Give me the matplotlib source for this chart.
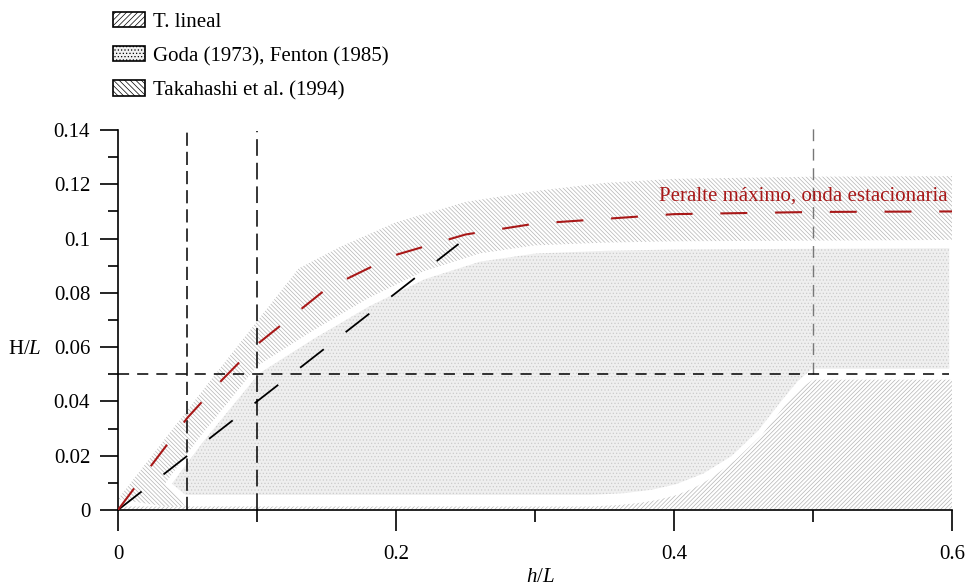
import matplotlib
matplotlib.use('Agg')
import matplotlib.pyplot as plt
from matplotlib.patches import Polygon, Patch
import numpy as np

plt.rcParams['font.family'] = ['Liberation Serif', 'DejaVu Serif']
plt.rcParams['mathtext.fontset'] = 'custom'
plt.rcParams['mathtext.rm'] = 'Liberation Serif'
plt.rcParams['mathtext.it'] = 'Liberation Serif:italic'
plt.rcParams['hatch.linewidth'] = 0.5
plt.rcParams['lines.scale_dashes'] = False

# zona Takahashi et al. (1994): borde superior y borde inferior
taka_up_x = [0.0, 0.07, 0.13, 0.16, 0.20, 0.25, 0.30, 0.35, 0.40, 0.50, 0.60]
taka_up_y = [0.004, 0.050, 0.089, 0.097, 0.106, 0.1135, 0.1175, 0.1205, 0.122, 0.1228, 0.123]
taka_lo_x = [0.60, 0.40, 0.35, 0.30, 0.26, 0.22, 0.18, 0.14, 0.10, 0.06, 0.036, 0.05]
taka_lo_y = [0.0995, 0.099, 0.0985, 0.0975, 0.0945, 0.088, 0.078, 0.066, 0.053, 0.027, 0.010, 0.0]

# zona Goda (1973), Fenton (1985)
goda_top_x = [0.036, 0.06, 0.10, 0.14, 0.18, 0.22, 0.26, 0.30, 0.35, 0.40, 0.60]
goda_top_y = [0.0095, 0.026, 0.051, 0.064, 0.076, 0.086, 0.0925, 0.0955, 0.0965, 0.097, 0.0975]
goda_rest_x = [0.60, 0.50, 0.49, 0.478, 0.462, 0.4425, 0.422, 0.402, 0.385, 0.365, 0.34, 0.048]
goda_rest_y = [0.051, 0.051, 0.0465, 0.039, 0.0285, 0.019, 0.0125, 0.0085, 0.0065, 0.0052, 0.0045, 0.0045]

# zona T. lineal
lin_x = [0.0, 0.60, 0.60, 0.50, 0.493, 0.485, 0.475, 0.463, 0.45, 0.438, 0.426, 0.414, 0.402, 0.388, 0.375, 0.36, 0.34, 0.0]
lin_y = [0.0, 0.0, 0.048, 0.048, 0.0455, 0.042, 0.0365, 0.030, 0.0225, 0.016, 0.0115, 0.008, 0.0055, 0.0037, 0.0026, 0.0018, 0.0013, 0.0013]

# peralte maximo onda estacionaria (rojo)
est_x = [0.0, 0.02, 0.05, 0.075, 0.10, 0.15, 0.20, 0.25, 0.30, 0.40, 0.50, 0.60]
est_y = [0.0, 0.0137, 0.034, 0.048, 0.061, 0.0815, 0.094, 0.1015, 0.1055, 0.109, 0.1098, 0.110]

# recta negra
rec_x = [0.0, 0.245]
rec_y = [0.0, 0.098]

xticks = [0, 0.2, 0.4, 0.6]
xtick_labels = ['0', '0.2', '0.4', '0.6']
yticks = [0, 0.02, 0.04, 0.06, 0.08, 0.1, 0.12, 0.14]
ytick_labels = ['0', '0.02', '0.04', '0.06', '0.08', '0.1', '0.12', '0.14']

fig = plt.figure(figsize=(9.67, 5.88), dpi=100)
ax = fig.add_axes([0.122, 0.1327, 0.8625, 0.6462])

hatch_gray = '#b4b4b4'

taka_poly = np.column_stack([taka_up_x + taka_lo_x, taka_up_y + taka_lo_y])
ax.add_patch(Polygon(taka_poly, closed=True, facecolor='white', edgecolor=hatch_gray,
                     lw=0, hatch='\\' * 8, zorder=1))

lin_poly = np.column_stack([lin_x, lin_y])
ax.add_patch(Polygon(lin_poly, closed=True, facecolor='white', edgecolor=hatch_gray,
                     lw=0, hatch='/' * 8, zorder=2))

goda_poly = np.column_stack([goda_top_x + goda_rest_x, goda_top_y + goda_rest_y])
ax.add_patch(Polygon(goda_poly, closed=True, facecolor='#efefef', edgecolor='#cccccc',
                     lw=0, hatch='.....', zorder=3))
ax.add_patch(Polygon(goda_poly, closed=True, facecolor='none', edgecolor='white',
                     lw=4, joinstyle='round', zorder=4))

# lineas de referencia
ax.plot([0.05, 0.05], [0, 0.1405], color='black', lw=1.1, dashes=(9.5, 4.3), clip_on=False, zorder=5)
ax.plot([0.1, 0.1], [0, 0.1395], color='black', lw=1.1, dashes=(12, 5), clip_on=False, zorder=5)
ax.plot([0.5, 0.5], [0.05, 0.1425], color='#777777', lw=1.0, dashes=(8.5, 5.5), clip_on=False, zorder=5)
ax.plot([0, 0.598], [0.05, 0.05], color='black', lw=1.1, dashes=(8, 5.8), zorder=5)

ax.plot(rec_x, rec_y, color='black', lw=1.3, dashes=(21.6, 20), zorder=6)
ax.plot(est_x, est_y, color='#a81818', lw=1.5, dashes=(19.4, 20), zorder=6)

ax.text(0.597, 0.1158, 'Peralte máximo, onda estacionaria', color='#a81818',
        fontsize=15, ha='right', va='center', zorder=7)

ax.set_xlim(0, 0.6)
ax.set_ylim(0, 0.14)
ax.spines['top'].set_visible(False)
ax.spines['right'].set_visible(False)
ax.spines['left'].set_linewidth(1.2)
ax.spines['bottom'].set_linewidth(1.2)

ax.set_xticks(xticks)
ax.set_xticklabels(xtick_labels)
ax.set_xticks([0.1, 0.3, 0.5], minor=True)
ax.set_yticks(yticks)
ax.set_yticklabels(ytick_labels)
ax.set_yticks([0.01, 0.03, 0.05, 0.07, 0.09, 0.11, 0.13], minor=True)
ax.tick_params(axis='x', which='major', length=15, width=1.2, pad=10, labelsize=15)
ax.tick_params(axis='x', which='minor', length=8.6, width=1.2)
ax.tick_params(axis='y', which='major', length=13, width=1.2, pad=7, labelsize=15)
ax.tick_params(axis='y', which='minor', length=7, width=1.2)

fig.text(540 / 967, 1 - 577 / 588, '$h/L$', fontsize=15, ha='center', va='center')
fig.text(25 / 967, 1 - 350 / 588, 'H/$L$', fontsize=15, ha='center', va='center')

handles = [
    Patch(facecolor='white', edgecolor='black', hatch='/' * 6, lw=1.2, label='T. lineal'),
    Patch(facecolor='#efefef', edgecolor='black', hatch='.....', lw=1.2, label='Goda (1973), Fenton (1985)'),
    Patch(facecolor='white', edgecolor='black', hatch='\\' * 6, lw=1.2, label='Takahashi et al. (1994)'),
]
fig.legend(handles=handles, loc='upper left', bbox_to_anchor=(109 / 967, 1 - 8 / 588),
           frameon=False, fontsize=15, handlelength=1.55, handleheight=0.75,
           handletextpad=0.35, labelspacing=0.68, borderpad=0.2, borderaxespad=0)

fig.savefig('out.png', dpi=100)
